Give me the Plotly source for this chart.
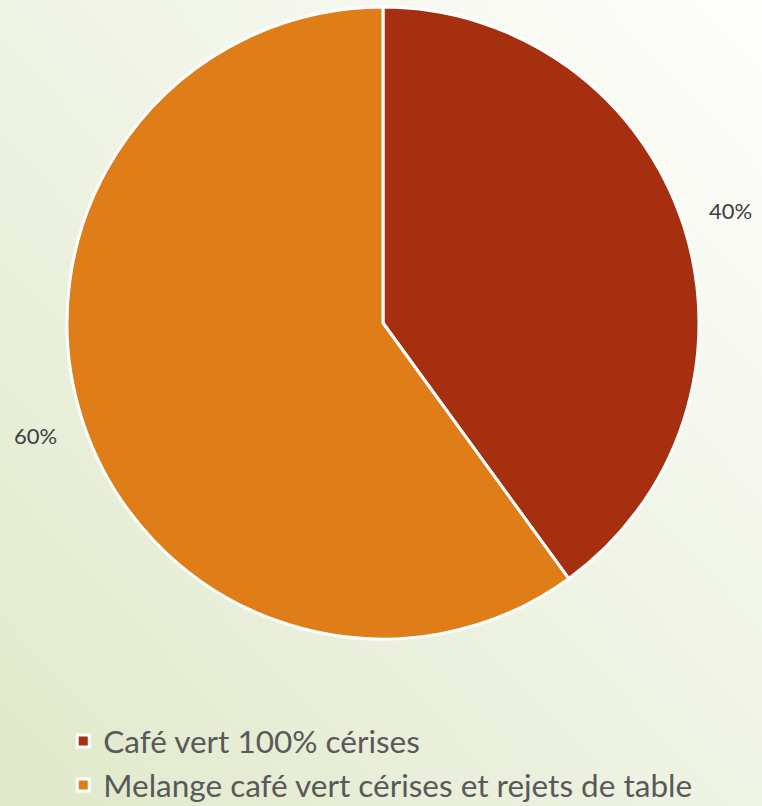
import base64
import math
import plotly.graph_objects as go

# Category names and shares
categories = ["Café vert 100% cérises", "Melange café vert cérises et rejets de table"]
shares = [40, 60]
slice_colors = ["#A52F0F", "#DF7E18"]

W, H = 762, 806

# Soft diagonal backdrop: pale green bottom-left fading to near white top-right
svg = f"""<svg xmlns='http://www.w3.org/2000/svg' width='{W}' height='{H}'>
<defs><linearGradient id='g' x1='0' y1='1' x2='1' y2='0'>
<stop offset='0' stop-color='#E0E9CA'/>
<stop offset='0.5' stop-color='#EFF3E4'/>
<stop offset='1' stop-color='#FEFEFC'/>
</linearGradient></defs>
<rect width='{W}' height='{H}' fill='url(#g)'/></svg>"""
bg_uri = "data:image/svg+xml;base64," + base64.b64encode(svg.encode()).decode()

# Pie centre and radius in pixels
cx, cy, r = 383, 323, 316
label_r = 365

fig = go.Figure(
    go.Pie(
        labels=categories,
        values=shares,
        sort=False,
        direction="clockwise",
        rotation=0,
        marker=dict(colors=slice_colors, line=dict(color="white", width=3)),
        textinfo="none",
        domain=dict(x=[(cx - r) / W, (cx + r) / W], y=[1 - (cy + r) / H, 1 - (cy - r) / H]),
        hoverinfo="label+percent",
    )
)

# Percentage labels placed just outside each slice, at its mid angle
total = sum(shares)
annotations = []
start = 0.0
for v in shares:
    mid = (start + v / 2) / total * 2 * math.pi
    start += v
    px = cx + label_r * math.sin(mid)
    py = cy - label_r * math.cos(mid)
    annotations.append(dict(
        x=px / W, y=1 - py / H, xref="paper", yref="paper",
        text=f"{round(v / total * 100)}%", showarrow=False,
        xanchor="center", yanchor="middle",
        font=dict(family="Lato", size=22, color="#404040"),
    ))

fig.update_layout(
    width=W,
    height=H,
    margin=dict(l=0, r=0, t=0, b=0, autoexpand=False),
    paper_bgcolor="#F0F3E6",
    plot_bgcolor="rgba(0,0,0,0)",
    images=[dict(source=bg_uri, xref="paper", yref="paper", x=0, y=1, sizex=1, sizey=1,
                 sizing="stretch", layer="below", xanchor="left", yanchor="top")],
    annotations=annotations,
    legend=dict(
        x=0.083, y=0.114, xanchor="left", yanchor="top",
        font=dict(family="Lato", size=31.5, color="#595959"),
        bgcolor="rgba(0,0,0,0)",
        itemwidth=30,
    ),
    showlegend=True,
)

fig.write_html("out.html")
